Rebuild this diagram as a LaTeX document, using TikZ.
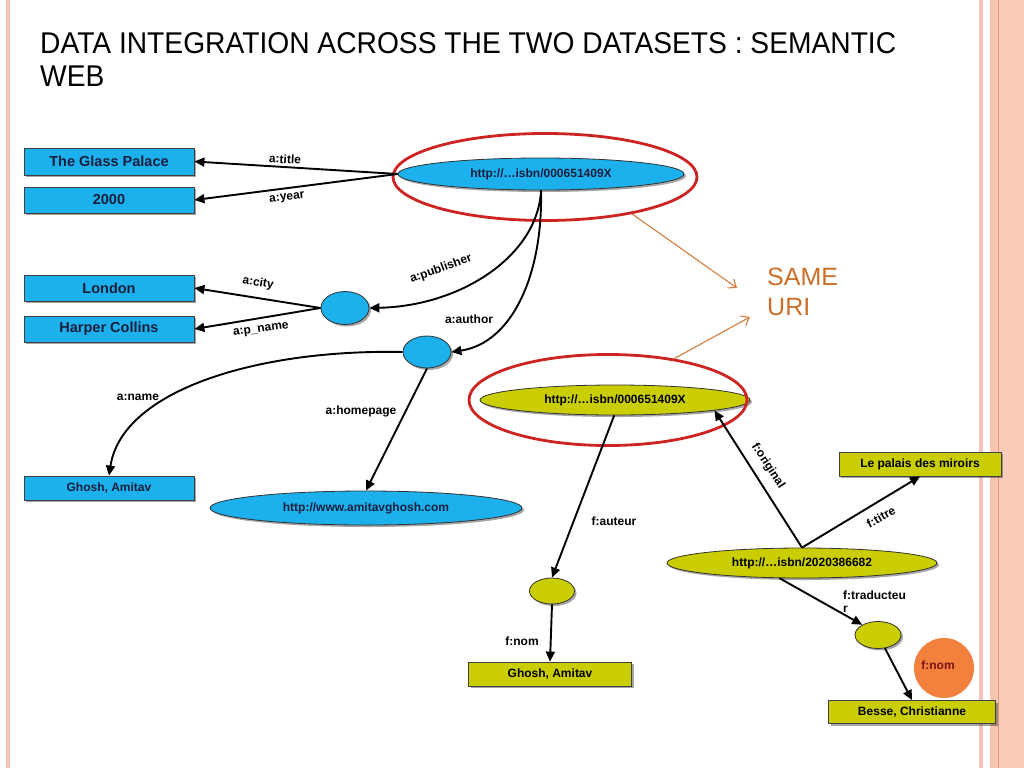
\documentclass[tikz,border=0pt]{standalone}
\usepackage{fontspec}
\setmainfont{Liberation Sans}
\newfontfamily\narrowfont{Liberation Sans}[FakeStretch=0.94]
\usetikzlibrary{shapes.geometric,arrows.meta,shadows}
\definecolor{skyb}{RGB}{28,176,236}
\definecolor{olive}{RGB}{202,206,0}
\definecolor{navyt}{RGB}{25,30,60}
\definecolor{redring}{RGB}{205,35,35}
\definecolor{oranget}{RGB}{205,110,40}
\definecolor{orangec}{RGB}{244,128,62}
\definecolor{peach}{RGB}{250,205,186}
\definecolor{pinkline}{RGB}{244,196,188}
\definecolor{darkpeach}{RGB}{222,150,120}
\begin{document}
\begin{tikzpicture}[x=1pt,y=-1pt,
  shad/.style={drop shadow={shadow xshift=2pt,shadow yshift=-2pt,opacity=0.35,fill=black}},
  bbox/.style={draw=black!75,line width=0.8pt,fill=skyb,minimum width=170pt,minimum height=26pt,inner sep=0pt,text=navyt,font=\bfseries\fontsize{14.5}{16}\selectfont,shad},
  sbox/.style={bbox,font=\bfseries\fontsize{12}{14}\selectfont,minimum height=24pt},
  ybox/.style={sbox,fill=olive,text=black},
  bell/.style={ellipse,draw=black!80,line width=0.8pt,fill=skyb,inner sep=0pt,text=navyt,font=\bfseries\fontsize{12}{14}\selectfont,shad},
  yell/.style={bell,fill=olive,text=black},
  ring/.style={ellipse,draw=redring,line width=2.8pt,inner sep=0pt},
  arr/.style={line width=1.9pt,-{Triangle[length=10pt,width=9pt]}},
  lbl/.style={font=\bfseries\fontsize{12}{14}\selectfont,inner sep=0pt},
  orarr/.style={draw=oranget!90,line width=1.1pt,-{Straight Barb[length=7pt,width=11pt]}}
]
\useasboundingbox (0,0) rectangle (1024,768);
\fill[white] (0,0) rectangle (1024,768);
% borders
\fill[pinkline] (6,0) rectangle (10,768);
\fill[pinkline] (979,0) rectangle (983,768);
\fill[peach] (990,0) rectangle (1024,768);
\fill[peach!85!darkpeach] (990,0) rectangle (997,768);
\draw[darkpeach,line width=0.8pt] (998,0) -- (998,768);

% title
\node[anchor=base west,inner sep=0pt,font=\narrowfont\fontsize{30}{33}\selectfont] (t1) at (40,53) {DATA INTEGRATION ACROSS THE TWO DATASETS : SEMANTIC};
\node[anchor=base west,inner sep=0pt,font=\narrowfont\fontsize{30}{33}\selectfont] (t2) at (40,86) {WEB};

% SAME URI
\node[anchor=base west,inner sep=0pt,text=oranget,font=\fontsize{25}{30}\selectfont] (same) at (767,285) {SAME};
\node[anchor=base west,inner sep=0pt,text=oranget,font=\fontsize{25}{30}\selectfont] (uri) at (767,315) {URI};

% blue side
\node[bbox,minimum height=27pt] (glass) at (109,161.5) {The Glass Palace};
\node[bbox] (year) at (109,200) {2000};
\node[bbox] (london) at (109,288) {London};
\node[bbox] (harper) at (109,329) {Harper Collins};
\node[sbox] (ghosh1) at (109,488) {Ghosh, Amitav};

\node[bell,minimum width=286pt,minimum height=32pt] (top) at (541,174) {http://…isbn/000651409X};
\node[ring,minimum width=304pt,minimum height=87pt] (circ1) at (545,177) {};
\node[bell,minimum width=48pt,minimum height=33pt] (pub) at (345,308) {};
\node[bell,minimum width=48pt,minimum height=32pt] (auth) at (427,352) {};
\node[bell,minimum width=312pt,minimum height=34pt] (home) at (366,508) {http://www.amitavghosh.com};

% yellow side
\node[yell,minimum width=270pt,minimum height=30pt] (y1) at (615,400) {http://…isbn/000651409X};
\node[ring,minimum width=278pt,minimum height=91pt] (circ2) at (608,400) {};
\node[ybox,minimum width=162pt] (palais) at (920,464) {Le palais des miroirs};
\node[yell,minimum width=270pt,minimum height=30pt] (y2) at (802,563) {http://…isbn/2020386682};
\node[yell,minimum width=45pt,minimum height=26pt] (ya) at (552,591) {};
\node[ybox,minimum width=163pt] (ghosh2) at (550,674) {Ghosh, Amitav};
\node[yell,minimum width=46pt,minimum height=27pt] (yt) at (878,635) {};
\node[circle,fill=orangec,minimum size=60pt,inner sep=0pt] (oc) at (944,668) {};
\node[ybox,minimum width=167pt,minimum height=23pt] (besse) at (912,712) {Besse, Christianne};

% blue edges
\draw[arr] (top.west) -- (glass.east);
\draw[arr] (top.west) -- (year.east);
\draw[arr] (top.south) .. controls (538,255) and (462,306) .. (pub.east);
\draw[arr] (top.south) .. controls (543,275) and (512,343) .. (auth.east);
\draw[arr] (pub.west) -- (london.east);
\draw[arr] (pub.west) -- (harper.east);
\draw[arr] (auth.west) .. controls (258,349) and (122,390) .. (ghosh1.north);
\draw[arr] (auth.south) -- (home.north);

% yellow edges
\draw[arr] (y1.-93) -- (ya.north);
\draw[arr] (ya.south) -- (ghosh2.north);
\draw[arr] (y2.north) -- (y1.-6);
\draw[arr] (y2.north) -- (palais.south);
\draw[arr] (y2.-146) -- (yt.147);
\draw[arr] (yt) -- (besse.north);

% orange arrows
\coordinate (s1) at (737,288);
\coordinate (s2) at (750,317);
\draw[orarr] (circ1.-23) -- (s1);
\draw[orarr] (circ2.32) -- (s2);

% labels
\node[lbl,rotate=-3] (ltitle) at (285,159) {a:title};
\node[lbl,rotate=7] (lyear) at (287,198) {a:year};
\node[lbl,rotate=-10] (lcity) at (258,283) {a:city};
\node[lbl,rotate=8] (lpname) at (261,330) {a:p\_name};
\node[lbl,rotate=20] (lpub) at (441,269) {a:publisher};
\node[lbl] (lauth) at (469,319) {a:author};
\node[lbl] (lname) at (138,397) {a:name};
\node[lbl] (lhome) at (361,411) {a:homepage};
\node[lbl] (lauteur) at (614,521) {f:auteur};
\node[lbl] (lnom1) at (522,641) {f:nom};
\node[lbl,rotate=-57] (lorig) at (768,466) {f:original};
\node[lbl,rotate=29] (ltitre) at (881,517) {f:titre};
\node[lbl,anchor=north west,align=left,font=\bfseries\fontsize{12}{13}\selectfont] (ltrad) at (843,591) {f:traducteu\\r};
\node[lbl,text={rgb,255:red,120;green,20;blue,20}] (lnom2) at (938,665) {f:nom};
\end{tikzpicture}
\end{document}
